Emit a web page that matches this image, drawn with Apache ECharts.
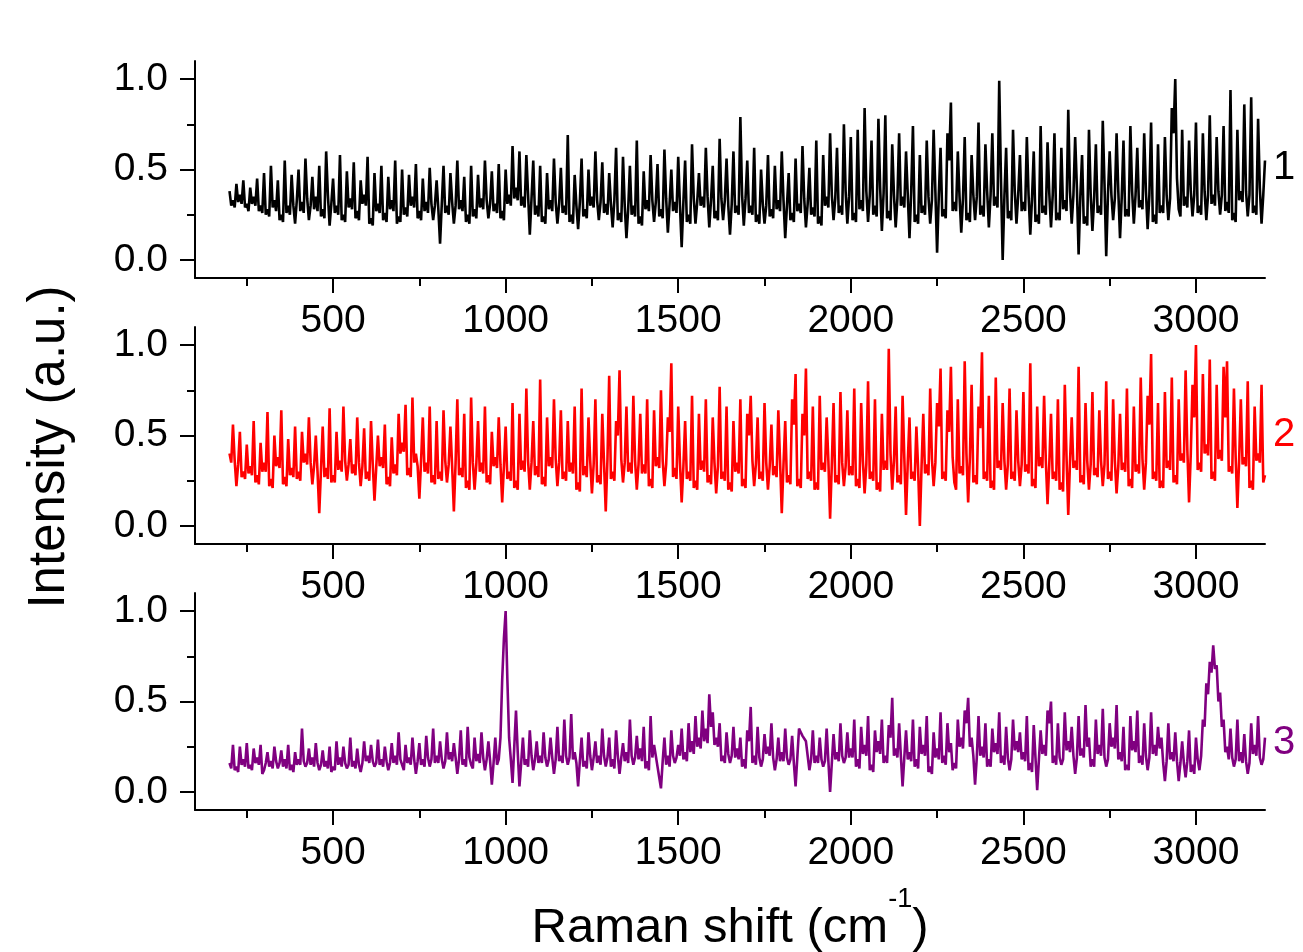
<!DOCTYPE html>
<html>
<head>
<meta charset="utf-8">
<script src="https://cdn.jsdelivr.net/npm/echarts@6.0.0/dist/echarts.min.js"></script>
<style>
  html, body { margin: 0; padding: 0; background: #fff; }
  #raman { width: 1303px; height: 952px; }
</style>
</head>
<body>
<div id="raman"></div>
<script>
// Raman shift grid: one reading every 5 cm-1 from 200 to 3200
var shiftStart = 200;
var shiftStep = 5;

// readings, normalised intensity (one row = 100 cm-1)
var spectrum1 = [
  0.38,0.30,0.33,0.29,0.42,0.32,0.36,0.31,0.44,0.29,0.31,0.27,0.40,0.31,0.35,0.30,0.45,0.27,0.30,0.26,
  0.48,0.25,0.28,0.24,0.52,0.29,0.33,0.27,0.44,0.22,0.25,0.21,0.55,0.26,0.30,0.25,0.47,0.30,0.20,0.33,
  0.50,0.27,0.32,0.26,0.56,0.34,0.22,0.30,0.46,0.28,0.35,0.27,0.52,0.24,0.28,0.23,0.60,0.36,0.19,0.31,
  0.45,0.26,0.30,0.25,0.58,0.22,0.25,0.21,0.49,0.29,0.34,0.28,0.54,0.23,0.27,0.22,0.44,0.31,0.36,0.30,
  0.57,0.20,0.23,0.19,0.48,0.27,0.31,0.26,0.52,0.22,0.26,0.21,0.46,0.28,0.33,0.27,0.55,0.20,0.24,0.21,
  0.50,0.25,0.29,0.24,0.47,0.30,0.35,0.29,0.53,0.23,0.27,0.22,0.45,0.27,0.32,0.26,0.51,0.31,0.22,0.30,
  0.44,0.28,0.09,0.31,0.52,0.26,0.30,0.25,0.48,0.32,0.20,0.30,0.55,0.28,0.33,0.27,0.46,0.21,0.25,0.20,
  0.52,0.24,0.28,0.23,0.47,0.29,0.34,0.28,0.55,0.33,0.23,0.31,0.49,0.27,0.31,0.26,0.53,0.23,0.27,0.22,
  0.50,0.31,0.36,0.30,0.63,0.34,0.40,0.33,0.60,0.30,0.35,0.29,0.58,0.36,0.14,0.34,0.55,0.25,0.30,0.24,
  0.52,0.21,0.24,0.20,0.48,0.28,0.33,0.27,0.56,0.32,0.20,0.31,0.51,0.26,0.30,0.25,0.69,0.21,0.25,0.20,
  0.47,0.30,0.17,0.32,0.56,0.24,0.28,0.23,0.50,0.30,0.35,0.29,0.60,0.33,0.22,0.32,0.54,0.26,0.31,0.25,
  0.48,0.31,0.18,0.33,0.62,0.22,0.26,0.21,0.57,0.30,0.12,0.28,0.52,0.25,0.30,0.24,0.66,0.20,0.24,0.19,
  0.49,0.28,0.33,0.27,0.58,0.33,0.21,0.32,0.53,0.24,0.28,0.23,0.61,0.34,0.15,0.31,0.50,0.27,0.32,0.26,
  0.57,0.30,0.07,0.32,0.55,0.21,0.25,0.20,0.64,0.34,0.20,0.32,0.48,0.30,0.35,0.29,0.62,0.35,0.18,0.33,
  0.52,0.23,0.27,0.22,0.67,0.34,0.22,0.33,0.56,0.30,0.14,0.31,0.60,0.26,0.30,0.25,0.79,0.36,0.19,0.34,
  0.55,0.26,0.30,0.25,0.62,0.21,0.25,0.20,0.50,0.31,0.20,0.30,0.58,0.24,0.28,0.23,0.52,0.28,0.33,0.27,
  0.60,0.33,0.12,0.30,0.48,0.22,0.26,0.21,0.56,0.27,0.31,0.26,0.63,0.34,0.18,0.31,0.51,0.25,0.29,0.24,
  0.66,0.20,0.24,0.19,0.58,0.30,0.35,0.29,0.70,0.36,0.22,0.34,0.62,0.26,0.30,0.25,0.75,0.38,0.20,0.35,
  0.68,0.22,0.26,0.21,0.72,0.28,0.33,0.27,0.84,0.38,0.21,0.36,0.66,0.25,0.30,0.24,0.78,0.40,0.16,0.37,
  0.80,0.23,0.27,0.22,0.64,0.36,0.18,0.34,0.70,0.30,0.35,0.29,0.60,0.36,0.12,0.38,0.74,0.21,0.25,0.20,
  0.58,0.26,0.30,0.25,0.66,0.35,0.20,0.33,0.72,0.38,0.04,0.36,0.62,0.24,0.28,0.23,0.70,0.55,0.87,0.27,
  0.32,0.27,0.60,0.35,0.15,0.34,0.68,0.22,0.26,0.21,0.58,0.36,0.22,0.35,0.76,0.25,0.30,0.24,0.64,0.38,
  0.18,0.36,0.70,0.30,0.35,0.29,0.99,0.45,0.00,0.35,0.62,0.23,0.27,0.22,0.72,0.38,0.20,0.36,0.58,0.27,
  0.32,0.27,0.68,0.36,0.14,0.34,0.60,0.21,0.25,0.20,0.74,0.26,0.30,0.25,0.65,0.37,0.18,0.36,0.70,0.22,
  0.26,0.22,0.62,0.28,0.33,0.27,0.83,0.38,0.20,0.36,0.68,0.40,0.03,0.35,0.58,0.20,0.24,0.19,0.72,0.36,
  0.16,0.34,0.64,0.26,0.30,0.25,0.77,0.42,0.02,0.36,0.60,0.36,0.22,0.34,0.70,0.38,0.12,0.35,0.66,0.24,
  0.28,0.24,0.74,0.38,0.20,0.36,0.62,0.29,0.33,0.28,0.70,0.38,0.17,0.36,0.76,0.21,0.25,0.20,0.64,0.26,
  0.30,0.26,0.68,0.36,0.22,0.34,0.84,0.70,1.00,0.45,0.28,0.24,0.72,0.30,0.35,0.29,0.66,0.38,0.24,0.36,
  0.76,0.26,0.30,0.25,0.70,0.38,0.22,0.36,0.80,0.31,0.36,0.30,0.68,0.38,0.25,0.36,0.74,0.27,0.32,0.26,
  0.94,0.22,0.26,0.21,0.72,0.33,0.38,0.32,0.86,0.38,0.24,0.36,0.90,0.26,0.30,0.25,0.78,0.40,0.20,0.36,
  0.55
];

var spectrum2 = [
  0.40,0.35,0.56,0.36,0.22,0.34,0.52,0.27,0.30,0.26,0.45,0.29,0.33,0.28,0.58,0.24,0.28,0.23,0.46,0.30,
  0.35,0.30,0.63,0.22,0.26,0.21,0.50,0.33,0.38,0.32,0.64,0.23,0.27,0.22,0.48,0.28,0.32,0.27,0.55,0.26,
  0.30,0.25,0.52,0.35,0.40,0.34,0.60,0.35,0.23,0.33,0.50,0.30,0.07,0.31,0.55,0.27,0.32,0.26,0.65,0.24,
  0.28,0.24,0.52,0.31,0.36,0.30,0.66,0.36,0.25,0.34,0.48,0.29,0.34,0.28,0.60,0.35,0.22,0.33,0.54,0.26,
  0.30,0.25,0.58,0.34,0.14,0.32,0.50,0.33,0.38,0.32,0.56,0.23,0.27,0.22,0.49,0.29,0.34,0.28,0.62,0.40,
  0.46,0.41,0.67,0.28,0.32,0.27,0.71,0.35,0.40,0.33,0.15,0.36,0.60,0.30,0.35,0.29,0.66,0.24,0.28,0.23,
  0.58,0.26,0.30,0.25,0.64,0.36,0.24,0.34,0.55,0.33,0.08,0.35,0.70,0.28,0.32,0.27,0.62,0.21,0.25,0.20,
  0.71,0.35,0.20,0.34,0.58,0.30,0.35,0.29,0.66,0.24,0.28,0.23,0.52,0.33,0.38,0.32,0.60,0.34,0.13,0.33,
  0.55,0.26,0.30,0.25,0.68,0.21,0.25,0.20,0.62,0.31,0.36,0.30,0.76,0.36,0.20,0.35,0.58,0.28,0.33,0.27,
  0.81,0.23,0.27,0.22,0.60,0.33,0.38,0.32,0.70,0.37,0.22,0.35,0.64,0.26,0.30,0.25,0.58,0.30,0.35,0.29,
  0.66,0.20,0.24,0.19,0.76,0.28,0.33,0.27,0.60,0.36,0.18,0.34,0.70,0.24,0.28,0.23,0.62,0.35,0.08,0.37,
  0.83,0.26,0.30,0.25,0.58,0.50,0.86,0.37,0.24,0.35,0.66,0.30,0.35,0.29,0.72,0.36,0.20,0.34,0.62,0.29,
  0.34,0.29,0.70,0.22,0.26,0.21,0.64,0.33,0.38,0.32,0.75,0.36,0.22,0.34,0.60,0.52,0.90,0.27,0.32,0.26,
  0.66,0.35,0.13,0.33,0.58,0.26,0.30,0.25,0.72,0.21,0.25,0.20,0.62,0.31,0.36,0.30,0.70,0.24,0.28,0.23,
  0.60,0.35,0.18,0.33,0.77,0.26,0.30,0.25,0.66,0.20,0.24,0.19,0.58,0.30,0.35,0.29,0.70,0.22,0.26,0.21,
  0.62,0.50,0.72,0.36,0.22,0.34,0.60,0.26,0.30,0.25,0.68,0.35,0.20,0.33,0.56,0.28,0.33,0.27,0.64,0.36,
  0.07,0.34,0.58,0.24,0.28,0.23,0.70,0.56,0.84,0.22,0.26,0.21,0.62,0.50,0.87,0.26,0.30,0.25,0.66,0.20,
  0.24,0.20,0.72,0.31,0.35,0.30,0.60,0.36,0.04,0.34,0.68,0.24,0.28,0.23,0.74,0.35,0.22,0.33,0.64,0.28,
  0.33,0.28,0.76,0.22,0.26,0.21,0.68,0.36,0.18,0.34,0.80,0.26,0.30,0.25,0.70,0.20,0.24,0.19,0.62,0.31,
  0.36,0.31,0.98,0.40,0.20,0.36,0.66,0.24,0.28,0.23,0.72,0.38,0.06,0.35,0.60,0.26,0.30,0.25,0.55,0.32,
  0.00,0.33,0.62,0.29,0.34,0.28,0.76,0.37,0.22,0.35,0.68,0.55,0.87,0.26,0.30,0.25,0.64,0.52,0.88,0.38,
  0.24,0.20,0.70,0.29,0.33,0.28,0.91,0.40,0.13,0.38,0.78,0.24,0.28,0.23,0.66,0.54,0.96,0.26,0.30,0.25,
  0.72,0.21,0.25,0.20,0.82,0.32,0.36,0.31,0.68,0.36,0.20,0.34,0.76,0.26,0.30,0.25,0.64,0.36,0.22,0.34,
  0.74,0.30,0.34,0.29,0.90,0.22,0.26,0.21,0.66,0.33,0.38,0.32,0.72,0.36,0.12,0.34,0.62,0.26,0.30,0.25,
  0.70,0.20,0.24,0.19,0.78,0.38,0.06,0.35,0.60,0.32,0.36,0.31,0.88,0.24,0.28,0.23,0.68,0.36,0.20,0.34,
  0.74,0.28,0.32,0.27,0.64,0.36,0.22,0.34,0.80,0.26,0.30,0.25,0.70,0.36,0.18,0.33,0.62,0.31,0.35,0.30,
  0.76,0.22,0.26,0.21,0.66,0.30,0.34,0.29,0.82,0.37,0.20,0.35,0.72,0.56,0.95,0.26,0.30,0.25,0.68,0.21,
  0.25,0.21,0.74,0.32,0.36,0.31,0.82,0.24,0.28,0.23,0.70,0.36,0.40,0.35,0.86,0.42,0.13,0.40,0.78,0.60,
  1.00,0.31,0.35,0.30,0.84,0.40,0.45,0.39,0.92,0.26,0.30,0.25,0.78,0.37,0.42,0.36,0.88,0.60,0.91,0.30,
  0.33,0.29,0.76,0.38,0.10,0.36,0.70,0.34,0.38,0.33,0.80,0.21,0.25,0.20,0.66,0.36,0.40,0.35,0.78,0.24,
  0.28
];

var spectrum3 = [
  0.16,0.13,0.26,0.12,0.14,0.11,0.25,0.15,0.18,0.14,0.27,0.13,0.15,0.12,0.24,0.16,0.19,0.15,0.26,0.10,
  0.12,0.16,0.22,0.14,0.17,0.13,0.25,0.17,0.13,0.16,0.23,0.14,0.18,0.13,0.26,0.12,0.15,0.11,0.22,0.15,
  0.18,0.15,0.35,0.17,0.14,0.16,0.24,0.15,0.19,0.14,0.27,0.16,0.12,0.15,0.23,0.14,0.17,0.13,0.25,0.11,
  0.14,0.12,0.28,0.15,0.19,0.14,0.25,0.16,0.13,0.15,0.30,0.14,0.17,0.13,0.24,0.15,0.11,0.16,0.28,0.17,
  0.20,0.16,0.26,0.17,0.14,0.16,0.29,0.15,0.18,0.14,0.25,0.17,0.12,0.16,0.27,0.16,0.20,0.15,0.33,0.18,
  0.15,0.12,0.26,0.16,0.19,0.15,0.30,0.18,0.10,0.17,0.27,0.15,0.18,0.14,0.31,0.19,0.14,0.18,0.35,0.16,
  0.20,0.16,0.28,0.18,0.13,0.17,0.33,0.18,0.22,0.17,0.27,0.19,0.10,0.18,0.34,0.15,0.18,0.14,0.36,0.19,
  0.15,0.13,0.30,0.17,0.21,0.16,0.33,0.19,0.12,0.18,0.28,0.17,0.04,0.16,0.30,0.15,0.18,0.30,0.62,0.85,
  1.00,0.62,0.30,0.18,0.05,0.25,0.45,0.22,0.03,0.16,0.30,0.15,0.18,0.14,0.34,0.20,0.12,0.18,0.28,0.16,
  0.20,0.16,0.33,0.19,0.14,0.18,0.30,0.19,0.10,0.18,0.36,0.17,0.20,0.16,0.40,0.20,0.15,0.19,0.43,0.18,
  0.22,0.16,0.03,0.17,0.30,0.14,0.17,0.13,0.33,0.20,0.12,0.19,0.28,0.16,0.20,0.15,0.35,0.20,0.14,0.19,
  0.30,0.14,0.18,0.13,0.34,0.20,0.10,0.19,0.27,0.17,0.22,0.16,0.40,0.20,0.15,0.19,0.31,0.18,0.24,0.17,
  0.36,0.13,0.17,0.12,0.42,0.19,0.26,0.20,0.14,0.08,0.02,0.17,0.30,0.15,0.20,0.14,0.34,0.20,0.16,0.19,
  0.26,0.20,0.35,0.18,0.22,0.17,0.38,0.22,0.28,0.21,0.42,0.25,0.30,0.24,0.45,0.28,0.35,0.27,0.54,0.36,
  0.44,0.26,0.30,0.25,0.38,0.17,0.20,0.16,0.33,0.21,0.16,0.20,0.36,0.19,0.24,0.18,0.30,0.14,0.18,0.13,
  0.34,0.28,0.47,0.16,0.20,0.15,0.36,0.19,0.14,0.18,0.32,0.21,0.25,0.20,0.38,0.19,0.12,0.18,0.30,0.17,
  0.22,0.17,0.35,0.19,0.15,0.18,0.31,0.16,0.03,0.19,0.35,0.33,0.31,0.30,0.28,0.20,0.12,0.18,0.34,0.16,
  0.20,0.16,0.30,0.18,0.14,0.17,0.35,0.17,0.00,0.16,0.32,0.18,0.22,0.17,0.38,0.20,0.16,0.19,0.33,0.19,
  0.24,0.19,0.40,0.14,0.18,0.13,0.36,0.21,0.26,0.20,0.42,0.12,0.15,0.11,0.34,0.22,0.28,0.21,0.40,0.16,
  0.20,0.16,0.37,0.30,0.52,0.20,0.24,0.19,0.38,0.20,0.03,0.19,0.34,0.18,0.22,0.17,0.40,0.14,0.18,0.13,
  0.36,0.21,0.26,0.20,0.42,0.11,0.14,0.10,0.33,0.19,0.24,0.18,0.44,0.16,0.20,0.15,0.38,0.22,0.27,0.12,
  0.16,0.13,0.40,0.25,0.30,0.24,0.45,0.38,0.52,0.25,0.30,0.20,0.04,0.19,0.42,0.20,0.25,0.19,0.38,0.14,
  0.18,0.14,0.35,0.22,0.27,0.21,0.44,0.16,0.20,0.15,0.36,0.19,0.12,0.18,0.40,0.23,0.28,0.22,0.33,0.18,
  0.22,0.17,0.42,0.12,0.16,0.11,0.37,0.19,0.01,0.18,0.34,0.21,0.26,0.20,0.45,0.38,0.50,0.16,0.20,0.15,
  0.38,0.19,0.15,0.18,0.44,0.23,0.28,0.22,0.36,0.20,0.10,0.19,0.42,0.20,0.24,0.19,0.48,0.25,0.30,0.14,
  0.18,0.14,0.40,0.21,0.26,0.20,0.46,0.19,0.14,0.18,0.38,0.25,0.30,0.24,0.48,0.18,0.22,0.17,0.36,0.12,
  0.15,0.12,0.42,0.23,0.28,0.22,0.45,0.16,0.20,0.15,0.38,0.20,0.12,0.19,0.44,0.21,0.26,0.20,0.36,0.24,
  0.30,0.16,0.06,0.17,0.38,0.18,0.22,0.17,0.33,0.17,0.06,0.16,0.28,0.16,0.08,0.17,0.34,0.11,0.15,0.10,
  0.30,0.18,0.12,0.20,0.40,0.36,0.60,0.54,0.72,0.66,0.81,0.68,0.70,0.50,0.55,0.36,0.40,0.22,0.25,0.18,
  0.35,0.19,0.14,0.18,0.40,0.17,0.22,0.16,0.32,0.17,0.10,0.16,0.38,0.21,0.26,0.20,0.42,0.19,0.15,0.18,
  0.30
];

var spectra = [spectrum1, spectrum2, spectrum3];
var spectrumNames = ['1', '2', '3'];
var spectrumColors = ['#000000', '#ff0000', '#800080'];

var xMajorTicks = [500, 1000, 1500, 2000, 2500, 3000];
var xMinorTicks = [250, 750, 1250, 1750, 2250, 2750];
var yMajorTicks = [0, 0.5, 1.0];
var yMinorTicks = [0.25, 0.75];

var font = '"Liberation Sans", Arial, sans-serif';
var panelTops = [61, 327, 593];
var nameTops = [170, 437, 745];

function pairs(values) {
  var out = [];
  for (var i = 0; i < values.length; i++) {
    out.push([shiftStart + i * shiftStep, values[i]]);
  }
  return out;
}

var grids = [], xAxes = [], yAxes = [], series = [], graphics = [];

for (var p = 0; p < 3; p++) {
  grids.push({ left: 195, width: 1070, top: panelTops[p], height: 217 });

  // main x axis with labels
  xAxes.push({
    type: 'value', gridIndex: p, position: 'bottom', min: 100, max: 3200,
    axisLine: { onZero: false, lineStyle: { color: '#000', width: 2 } },
    axisTick: { customValues: xMajorTicks, length: 15, lineStyle: { color: '#000', width: 2 } },
    axisLabel: {
      customValues: xMajorTicks, color: '#000', fontSize: 39, fontFamily: font, margin: 24,
      formatter: function (v) { return String(v); }
    },
    splitLine: { show: false }
  });
  // minor ticks
  xAxes.push({
    type: 'value', gridIndex: p, position: 'bottom', offset: 0, min: 100, max: 3200,
    axisLine: { show: false, onZero: false },
    axisTick: { customValues: xMinorTicks, length: 8, lineStyle: { color: '#000', width: 2 } },
    axisLabel: { show: false },
    splitLine: { show: false }
  });

  yAxes.push({
    type: 'value', gridIndex: p, position: 'left', min: -0.1, max: 1.1,
    axisLine: { show: true, onZero: false, lineStyle: { color: '#000', width: 2 } },
    axisTick: { show: true, customValues: yMajorTicks, length: 15, lineStyle: { color: '#000', width: 2 } },
    axisLabel: {
      customValues: yMajorTicks, color: '#000', fontSize: 39, fontFamily: font, margin: 27,
      formatter: function (v) { return v.toFixed(1); }
    },
    splitLine: { show: false }
  });
  yAxes.push({
    type: 'value', gridIndex: p, position: 'left', offset: 0, min: -0.1, max: 1.1,
    axisLine: { show: false, onZero: false },
    axisTick: { show: true, customValues: yMinorTicks, length: 8, lineStyle: { color: '#000', width: 2 } },
    axisLabel: { show: false },
    splitLine: { show: false }
  });

  series.push({
    name: spectrumNames[p],
    type: 'line',
    xAxisIndex: p * 2,
    yAxisIndex: p * 2,
    data: pairs(spectra[p]),
    showSymbol: false,
    lineStyle: { color: spectrumColors[p], width: 2.6 },
    itemStyle: { color: spectrumColors[p] }
  });

  graphics.push({
    type: 'text', left: 1273, top: nameTops[p] - 22,
    style: { text: spectrumNames[p], fill: spectrumColors[p], fontSize: 40, fontFamily: font }
  });
}

graphics.push({
  type: 'text', x: 50, y: 447, rotation: Math.PI / 2,
  style: {
    text: 'Intensity (a.u.)', fill: '#000', fontSize: 51, fontFamily: font,
    align: 'center', verticalAlign: 'middle'
  }
});
graphics.push({
  type: 'text', x: 730, y: 953,
  style: {
    text: '{a|Raman shift (cm}{b|-1}{a|)}',
    fill: '#000', align: 'center', verticalAlign: 'bottom',
    rich: {
      a: { fontSize: 49, fontFamily: font, verticalAlign: 'bottom' },
      b: { fontSize: 27, fontFamily: font, verticalAlign: 'bottom', padding: [0, 0, 40, 0] }
    }
  }
});

var myChart = echarts.init(document.getElementById('raman'));
myChart.setOption({
  animation: false,
  grid: grids,
  xAxis: xAxes,
  yAxis: yAxes,
  series: series,
  graphic: graphics
});
</script>
</body>
</html>
